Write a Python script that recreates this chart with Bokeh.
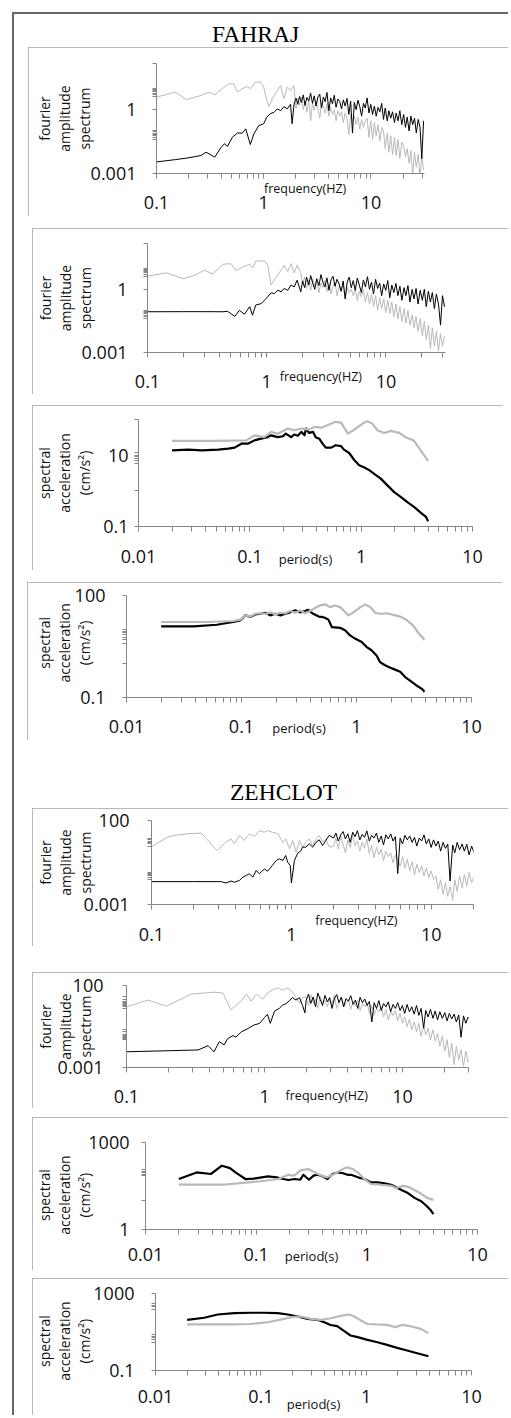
import math
from bokeh.plotting import figure
from bokeh.models import Range1d, FixedTicker, CustomJSTickFormatter, Div
from bokeh.layouts import column
from bokeh.embed import file_html
from bokeh.resources import INLINE

# ---------------- data ----------------
# shared frequency samples for the noisy high-frequency part of the spectra (Hz)
FREQ_HI = [2.0, 2.08, 2.16, 2.25, 2.34, 2.43, 2.53, 2.63, 2.74, 2.85,
           2.96, 3.08, 3.2, 3.33, 3.46, 3.6, 3.74, 3.89, 4.05, 4.21,
           4.38, 4.55, 4.73, 4.92, 5.12, 5.32, 5.53, 5.75, 5.98, 6.22,
           6.47, 6.73, 7.0, 7.28, 7.57, 7.87, 8.19, 8.52, 8.86, 9.21,
           9.58, 9.96, 10.36, 10.77, 11.2, 11.65, 12.12, 12.6, 13.1, 13.6,
           14.2, 14.7, 15.3, 15.9, 16.6, 17.2, 17.9, 18.6, 19.4, 20.2,
           21.0, 21.8, 22.7, 23.6, 24.5, 25.5, 26.5, 27.6, 28.7, 29.8, 31.0]

# FAHRAJ - Fourier amplitude spectrum (1)
FAH1_GRAY_F = [0.1, 0.15, 0.19, 0.26, 0.31, 0.35, 0.41, 0.47, 0.525, 0.57, 0.63, 0.70, 0.75,
               0.84, 0.93, 1.0, 1.07, 1.12, 1.2, 1.34, 1.44, 1.54, 1.66, 1.78, 1.91]
FAH1_GRAY_A = [3.9, 6.8, 3.0, 4.7, 6.8, 5.0, 9.8, 16.6, 16.6, 6.8, 9.8, 12.3, 9.8,
               20, 20, 11.5, 2.7, 1.4, 3.3, 8.1, 13.8, 3.3, 11.5, 8.1, 13.8]
FAH1_GRAY_A_HI = [1.2, 3.5, 1.6, 4.0, 1.0, 2.5, 0.8, 3.0, 0.3, 2.2, 0.9,
                  2.6, 1.1, 0.4, 2.2, 1.4, 0.7, 1.9, 0.5,
                  1.3, 0.6, 1.0, 0.3, 0.9, 0.5,
                  0.8, 0.25, 0.7, 0.4, 0.07, 0.6, 0.3,
                  0.5, 0.2, 0.45, 0.12, 0.35, 0.15, 0.3,
                  0.4, 0.05, 0.3, 0.04,
                  0.25, 0.06, 0.2, 0.035, 0.15,
                  0.1, 0.015, 0.08, 0.01, 0.06, 0.008, 0.05,
                  0.007, 0.04, 0.005, 0.03,
                  0.02, 0.006, 0.015, 0.003, 0.012, 0.0008, 0.01, 0.002, 0.008, 0.0007, 0.006, 0.0015]
FAH1_BLACK_F = [0.1, 0.15, 0.2, 0.26, 0.29, 0.35, 0.40, 0.43, 0.46, 0.51, 0.57, 0.63, 0.68, 0.75,
                0.81, 0.9, 1.0, 1.07, 1.15, 1.25, 1.34, 1.44, 1.54, 1.66, 1.78, 1.84, 1.92]
FAH1_BLACK_A = [0.0035, 0.0045, 0.0055, 0.007, 0.01, 0.0059, 0.017, 0.025, 0.019, 0.051, 0.081, 0.079,
                0.126, 0.023, 0.074, 0.18, 0.22, 0.45, 0.65, 0.76, 1.1, 0.9, 1.4, 1.1, 1.8, 0.22, 1.9]
FAH1_BLACK_A_HI = [3.5, 1.8, 4.2, 2.2, 5.0, 1.6, 3.8, 2.6, 6.0, 2.0, 4.5,
                   1.5, 3.9, 5.5, 1.2, 4.0, 2.4, 6.5, 0.9,
                   3.6, 1.9, 4.8, 1.3, 3.2, 2.4,
                   1.1, 2.9, 1.5, 3.4, 0.6, 2.5, 0.08,
                   2.2, 1.0, 2.8, 1.4, 0.5, 2.0, 1.2,
                   3.6, 0.7, 1.8, 0.6,
                   1.5, 0.5, 1.3, 0.8, 2.0,
                   0.35, 1.2, 0.3, 0.9, 0.4, 0.8, 0.25,
                   0.7, 0.3, 0.9, 0.2,
                   0.6, 0.15, 0.45, 0.1, 0.5, 0.2, 0.4, 0.08, 0.35, 0.15, 0.005, 0.3]

# FAHRAJ - Fourier amplitude spectrum (2)
FAH2_GRAY_F = [0.1, 0.144, 0.2, 0.25, 0.30, 0.354, 0.43, 0.50, 0.555, 0.63, 0.72, 0.76, 0.81,
               0.96, 1.02, 1.09, 1.16, 1.32, 1.4, 1.5, 1.6, 1.7, 1.8, 1.93]
FAH2_GRAY_A = [4.2, 6.0, 3.2, 4.7, 8.1, 5.3, 15.5, 16.6, 7.6, 11.7, 15.5, 10.7, 21.7,
               22.5, 14, 1.6, 2.9, 8.1, 14, 6.8, 16.6, 6.0, 14, 6.0]
FAH2_GRAY_A_HI = [1.8, 3.9, 1.1, 2.8, 0.9, 3.2, 1.4, 2.4, 0.7, 2.0, 1.2,
                  2.6, 0.8, 1.9, 0.6, 1.5, 2.2, 0.5, 1.4,
                  0.9, 1.6, 0.4, 1.2, 0.7, 1.0,
                  0.5, 1.1, 0.3, 0.8, 0.45, 0.9, 0.25,
                  0.7, 0.2, 0.6, 0.15, 0.5, 0.1, 0.4,
                  0.12, 0.35, 0.08, 0.3,
                  0.07, 0.25, 0.05, 0.2, 0.04,
                  0.15, 0.03, 0.12, 0.025, 0.1, 0.02, 0.06,
                  0.015, 0.05, 0.01, 0.04,
                  0.006, 0.03, 0.004, 0.02, 0.0015, 0.015, 0.002, 0.01, 0.0012, 0.008, 0.002, 0.006]
FAH2_BLACK_F = [0.1, 0.2, 0.3, 0.43, 0.47, 0.54, 0.59, 0.65, 0.72, 0.76, 0.81, 0.90,
                0.99, 1.09, 1.16, 1.24, 1.32, 1.4, 1.5, 1.6, 1.7, 1.8, 1.93]
FAH2_BLACK_A = [0.086, 0.087, 0.087, 0.086, 0.09, 0.052, 0.10, 0.066, 0.15, 0.059, 0.18, 0.21,
                0.37, 0.68, 0.63, 0.91, 0.76, 1.1, 0.9, 1.6, 1.3, 2.7, 0.76]
FAH2_BLACK_A_HI = [2.5, 1.2, 3.8, 1.6, 4.5, 2.0, 1.0, 3.2, 1.5, 5.0, 2.2,
                   1.3, 3.5, 0.9, 2.8, 4.2, 1.4, 3.0, 1.8,
                   0.8, 2.5, 0.35, 2.2, 3.8, 1.2,
                   2.6, 0.9, 3.4, 1.6, 0.7, 2.8, 1.3,
                   4.0, 1.0, 2.2, 0.6, 3.0, 1.1, 2.0,
                   0.5, 1.8, 0.9, 2.6,
                   0.4, 1.6, 0.7, 1.9, 0.5,
                   1.4, 0.3, 1.2, 0.5, 1.5, 0.25, 1.0,
                   0.35, 1.1, 0.2, 0.9,
                   0.3, 1.0, 0.15, 0.8, 0.25, 0.7, 0.12, 0.6, 0.2, 0.02, 0.5, 0.15]

# FAHRAJ - spectral acceleration (1): period (s) / value
FAH3_BLACK_T = [0.02, 0.028, 0.037, 0.052, 0.064, 0.073, 0.084, 0.096, 0.11, 0.126, 0.145, 0.155,
                0.178, 0.198, 0.21, 0.235, 0.25, 0.27, 0.29, 0.31, 0.32, 0.34, 0.37, 0.39, 0.42,
                0.45, 0.48, 0.54, 0.59, 0.66, 0.70, 0.78, 0.87, 0.96, 1.07, 1.18, 1.31, 1.5, 1.73,
                1.98, 2.28, 2.6, 3.0, 3.4, 3.8, 4.0]
FAH3_BLACK_SA = [13.7, 14.3, 13.7, 14.3, 15.3, 16.3, 21, 21, 26, 29, 32, 36,
                 32, 34, 40, 32, 38, 35, 45, 36, 56, 42, 45, 32, 29,
                 21, 16.3, 16.3, 19, 18, 14.3, 11.5, 7.2, 5.2, 4.5, 3.8, 3.0, 2.2, 1.4,
                 0.92, 0.67, 0.48, 0.35, 0.25, 0.19, 0.14]
FAH3_GRAY_T = [0.02, 0.05, 0.093, 0.11, 0.135, 0.155, 0.178, 0.22, 0.25, 0.29, 0.34, 0.38, 0.44,
               0.54, 0.59, 0.66, 0.76, 0.90, 1.03, 1.13, 1.26, 1.40, 1.61, 1.85, 2.2, 2.5, 2.96,
               3.5, 4.0]
FAH3_GRAY_SA = [25, 25, 26, 36, 32, 45, 40, 56, 50, 56, 52, 62, 59,
                77, 86, 82, 40, 56, 77, 89, 77, 50, 42, 48, 42, 32, 26,
                12.3, 6.9]

# FAHRAJ - spectral acceleration (2)
FAH4_BLACK_T = [0.02, 0.0385, 0.061, 0.075, 0.085, 0.098, 0.108, 0.119, 0.132, 0.145, 0.161,
                0.178, 0.197, 0.218, 0.24, 0.265, 0.293, 0.324, 0.357, 0.38, 0.42, 0.47, 0.50,
                0.53, 0.57, 0.61, 0.72, 0.80, 0.88, 0.97, 1.11, 1.22, 1.35, 1.5, 1.60, 1.77,
                1.95, 2.16, 2.4, 2.65, 2.9, 3.3, 3.7, 3.9]
FAH4_BLACK_SA = [12.3, 12.3, 13.8, 15.5, 16.6, 18.6, 26, 23.5, 27.6, 29, 31,
                 26, 29, 26, 29, 32, 36.6, 32, 35, 38, 29, 24, 23.5,
                 22.2, 19.5, 11.8, 11.2, 9.4, 6.7, 5.4, 4.3, 3.1, 2.45, 1.7, 1.1, 0.89,
                 0.76, 0.66, 0.57, 0.40, 0.32, 0.23, 0.18, 0.147]
FAH4_GRAY_T = [0.02, 0.05, 0.085, 0.098, 0.108, 0.119, 0.132, 0.145, 0.166, 0.178, 0.197, 0.218,
               0.24, 0.265, 0.293, 0.324, 0.357, 0.395, 0.44, 0.48, 0.53, 0.59, 0.65, 0.72,
               0.80, 0.85, 0.94, 1.08, 1.19, 1.32, 1.45, 1.60, 1.83, 2.1, 2.4, 2.7, 3.1, 3.5, 3.9]
FAH4_GRAY_SA = [16.6, 16.6, 17.8, 19.5, 26, 24, 29, 30, 29, 32, 27.6, 31,
                30, 35, 31, 36.6, 30, 35, 43.6, 51, 55, 45.5, 51, 45.5,
                32, 26, 32, 45.5, 54, 45.5, 31, 29, 30, 27, 24, 19.5, 13.2, 7.5, 5.0]

# ZEHCLOT - Fourier amplitude spectrum (1)
ZEH1_GRAY_F = [0.1, 0.131, 0.147, 0.18, 0.227, 0.295, 0.34, 0.37, 0.39, 0.425, 0.46, 0.50, 0.545,
               0.59, 0.64, 0.676, 0.73, 0.80, 0.87, 0.91, 0.97, 1.02, 1.08, 1.14, 1.2, 1.27, 1.34,
               1.42, 1.5, 1.58, 1.67, 1.76, 1.86]
ZEH1_GRAY_A = [2.8, 10.3, 13, 16.3, 17.7, 1.6, 5.1, 8.1, 4.1, 13, 6.4, 16.3, 11.3,
               25, 20, 25, 20, 16.3, 5.1, 8.1, 2.0, 6.4, 1.3, 6.4, 2.6, 5.1, 8.1,
               3.2, 8.1, 13, 5.1, 8.1, 2.6]
ZEH1_GRAY_A_HI = [3, 9, 2, 12, 4, 1.2, 7, 2.5, 14, 3, 6,
                  1.5, 5, 2.2, 8, 1.1, 3.5, 0.6, 2.5,
                  0.9, 2, 0.4, 1.5, 0.7, 1.2,
                  0.3, 0.9, 0.5, 0.2, 0.7, 0.15, 0.5,
                  0.1, 0.35, 0.06, 0.25, 0.08, 0.2, 0.05,
                  0.15, 0.04, 0.1, 0.03,
                  0.05, 0.008, 0.03, 0.004, 0.02,
                  0.003, 0.012, 0.0018, 0.03, 0.006, 0.05, 0.01,
                  0.06, 0.012, 0.08, 0.02,
                  0.05, 0.015, 0.07, 0.02, 0.05, 0.01, 0.06, 0.02, 0.04, 0.01, 0.05, 0.02]
ZEH1_BLACK_F = [0.1, 0.2, 0.315, 0.34, 0.37, 0.39, 0.425, 0.45, 0.476, 0.50, 0.53, 0.56, 0.59,
                0.64, 0.676, 0.73, 0.78, 0.82, 0.87, 0.91, 0.94, 0.98, 1.0, 1.05, 1.11, 1.17,
                1.2, 1.27, 1.34, 1.42, 1.5, 1.58, 1.67, 1.76, 1.86]
ZEH1_BLACK_A = [0.023, 0.023, 0.023, 0.019, 0.025, 0.021, 0.027, 0.043, 0.054, 0.067, 0.043, 0.105,
                0.067, 0.13, 0.096, 0.21, 0.42, 0.52, 0.42, 0.83, 0.33, 0.21, 0.019, 0.42, 1.14,
                1.6, 2.6, 2.6, 4.1, 2.6, 5.1, 7.1, 3.2, 6.4, 13]
ZEH1_BLACK_A_HI = [9, 18, 6, 14, 22, 8, 16, 5, 20, 11, 25,
                   7, 15, 10, 24, 6, 13, 9, 18,
                   5, 12, 3.5, 14, 8, 16,
                   6, 11, 0.07, 9, 4, 13, 7,
                   12, 5, 10, 3, 9, 6, 14,
                   4, 8, 2.5, 7,
                   3, 6, 1.5, 5, 2.2,
                   4, 0.025, 3.5, 1.2, 5, 1.8, 4,
                   1.5, 3.8, 0.9, 3,
                   1.2, 2.5, 1, 3, 1.5, 2.8, 1, 2.5, 1.2, 2, 1, 2]

# ZEHCLOT - Fourier amplitude spectrum (2)
ZEH2_GRAY_F = [0.1, 0.143, 0.194, 0.295, 0.43, 0.50, 0.57, 0.68, 0.74, 0.80, 0.87, 0.97, 1.05,
               1.14, 1.24, 1.35, 1.47, 1.59, 1.69, 1.79, 1.88]
ZEH2_GRAY_A = [5.0, 13, 5.5, 30, 39, 35, 3.3, 11.8, 30, 10.9, 30, 14.7, 35,
               53, 71, 53, 71, 42, 18, 8.5, 18]
ZEH2_GRAY_A_HI = [20, 6, 28, 9, 15, 4, 22, 8, 12, 5, 18,
                  7, 25, 4, 11, 16, 5, 9, 14,
                  3.5, 10, 6, 13, 3, 8,
                  5, 9, 2, 6, 1.5, 4, 2.5,
                  5, 1.2, 3.5, 0.8, 2.5, 1.5, 3,
                  0.7, 2, 0.5, 1.2,
                  0.3, 0.9, 0.2, 0.6, 0.15,
                  0.5, 0.08, 0.35, 0.1, 0.25, 0.05, 0.2,
                  0.04, 0.12, 0.02, 0.08,
                  0.01, 0.05, 0.004, 0.03, 0.0015, 0.02, 0.003, 0.012, 0.0012, 0.01, 0.002, 0.006]
ZEH2_BLACK_F = [0.1, 0.33, 0.39, 0.43, 0.47, 0.51, 0.54, 0.59, 0.62, 0.68, 0.76, 0.84, 0.92,
                1.0, 1.05, 1.1, 1.18, 1.28, 1.35, 1.43, 1.51, 1.59, 1.69, 1.79, 1.88, 1.96]
ZEH2_BLACK_A = [0.0091, 0.0117, 0.0215, 0.0091, 0.037, 0.024, 0.057, 0.088, 0.071, 0.15, 0.24,
                0.39, 0.49, 1.14, 1.74, 0.49, 2.7, 4.1, 6.3, 7.8, 11.8, 18, 13, 18, 6.3, 2.15]
ZEH2_BLACK_A_HI = [12, 30, 8, 20, 5, 35, 14, 6, 25, 10, 18,
                   4, 15, 28, 9, 20, 5, 16, 11,
                   24, 7, 13, 4, 19, 9,
                   15, 6, 11, 0.6, 9, 4, 12,
                   3, 8, 5, 10, 2.5, 7, 4,
                   9, 3, 6, 2,
                   7, 2.5, 5, 1.8, 6,
                   1.5, 4, 0.25, 3, 1.2, 3.5, 1,
                   2.8, 0.8, 2.5, 1,
                   2.2, 0.7, 2, 0.9, 1.8, 0.6, 1.6, 0.07, 1.4, 0.5, 1.2, 0.8]

# ZEHCLOT - spectral acceleration (1)
ZEH3_BLACK_T = [0.02, 0.029, 0.039, 0.049, 0.058, 0.065, 0.08, 0.095, 0.112, 0.128, 0.153, 0.176,
                0.195, 0.224, 0.25, 0.267, 0.30, 0.33, 0.36, 0.40, 0.44, 0.49, 0.55, 0.61, 0.67,
                0.72, 0.83, 0.95, 1.09, 1.25, 1.44, 1.66, 1.9, 2.1, 2.35, 2.7, 3.1, 3.45, 3.8, 4.0]
ZEH3_BLACK_SA = [55, 93, 82, 158, 131, 93, 55, 57, 63, 68, 63, 55,
                 51, 55, 52, 77, 52, 72, 77, 68, 55, 82, 93, 87, 77,
                 77, 63, 55, 42, 42, 39, 35, 27, 22, 18, 12.3, 9.4, 6.6, 4.5, 3.4]
ZEH3_GRAY_T = [0.02, 0.05, 0.085, 0.12, 0.158, 0.195, 0.22, 0.255, 0.295, 0.34, 0.39, 0.44, 0.51,
               0.57, 0.63, 0.67, 0.75, 0.83, 0.95, 1.09, 1.34, 1.66, 1.84, 2.1, 2.35, 2.7, 3.1,
               3.5, 4.0]
ZEH3_GRAY_SA = [35, 35, 42, 48, 55, 77, 72, 112, 121, 93, 72, 63, 82,
                106, 131, 138, 121, 93, 55, 37, 35, 32, 27, 32, 30, 23, 17, 12.3, 10.5]

# ZEHCLOT - spectral acceleration (2)
ZEH4_BLACK_T = [0.02, 0.029, 0.039, 0.056, 0.081, 0.108, 0.145, 0.18, 0.224, 0.278, 0.345, 0.40,
                0.46, 0.53, 0.62, 0.71, 0.83, 1.03, 1.28, 1.58, 1.97, 2.45, 3.05, 3.9]
ZEH4_BLACK_SA = [43, 55, 81, 95, 100, 100, 95, 81, 64, 48, 43, 32,
                 23, 20, 11, 6.6, 5.4, 3.9, 2.95, 2.15, 1.5, 1.1, 0.79, 0.55]
ZEH4_GRAY_T = [0.02, 0.056, 0.081, 0.116, 0.167, 0.194, 0.24, 0.30, 0.37, 0.46, 0.62, 0.69,
               0.77, 0.89, 1.03, 1.28, 1.58, 1.9, 2.2, 2.63, 3.3, 3.9]
ZEH4_GRAY_SA = [24.6, 24.6, 26, 32, 48, 59, 64, 48, 43, 52, 75, 81,
                64, 40, 26, 24.6, 23.5, 18, 23.5, 20, 14.5, 8.7]

# tick positions / labels
FREQ_MAJOR = [0.1, 1, 10]
PERIOD_MAJOR = [0.01, 0.1, 1, 10]
FREQ_MINOR_30 = [0.2, 0.3, 0.4, 0.5, 0.6, 0.7, 0.8, 0.9, 2, 3, 4, 5, 6, 7, 8, 9, 20, 30]
FREQ_MINOR_20 = [0.2, 0.3, 0.4, 0.5, 0.6, 0.7, 0.8, 0.9, 2, 3, 4, 5, 6, 7, 8, 9, 20]
PERIOD_MINOR = [0.02, 0.03, 0.04, 0.05, 0.06, 0.07, 0.08, 0.09,
                0.2, 0.3, 0.4, 0.5, 0.6, 0.7, 0.8, 0.9, 2, 3, 4, 5, 6, 7, 8, 9]

FAS_TITLE = "fourier\namplitude\nspectrum"
SA_TITLE = "spectral\nacceleration\n(cm/s\u00b2)"
FREQ_TITLE = "frequency(HZ)"
PERIOD_TITLE = "period(s)"
STATION_1 = "FAHRAJ"
STATION_2 = "ZEHCLOT"

# ---------------- style ----------------
GRAY = "#b9b9b9"
BLACK = "#000000"
AXIS_COLOR = "#868686"
BOX_COLOR = "#a0a0a0"
FONT = "Open Sans"
ORIGIN_X, ORIGIN_Y = 14, 14
NBSP = "\u00a0"

# yshift: nbsp padding on the rotated y titles (<0 leading -> moves up, >0 trailing -> moves down)
PANELS = [
    dict(box=(28, 47, 480, 169), frame=(156, 424, 63, 173), xr=(0.1, 31.6), yr=(0.001, 150),
         xt=FREQ_MAJOR, xm=FREQ_MINOR_30, yt=[0.001, 1],
         ym=[0.04, 0.05, 0.06, 0.07, 0.08, 0.09, 0.1, 4, 5, 6, 7, 8, 9, 10, 150],
         xs=17, ys=16, yals=-6, xals=-32, xpad=9, yshift=0, ytitle=FAS_TITLE, xtitle=FREQ_TITLE,
         xfs="12.5px", lw=1,
         series=[(FAH1_GRAY_F + FREQ_HI, FAH1_GRAY_A + FAH1_GRAY_A_HI, GRAY),
                 (FAH1_BLACK_F + FREQ_HI, FAH1_BLACK_A + FAH1_BLACK_A_HI, BLACK)]),
    dict(box=(32, 228, 476, 166), frame=(146, 445, 243, 352), xr=(0.1, 31.6), yr=(0.001, 150),
         xt=FREQ_MAJOR, xm=FREQ_MINOR_30, yt=[0.001, 1],
         ym=[0.04, 0.05, 0.06, 0.07, 0.08, 0.09, 0.1, 4, 5, 6, 7, 8, 9, 10, 150],
         xs=17, ys=16, yals=-16, xals=-23, xpad=15, yshift=0, ytitle=FAS_TITLE, xtitle=FREQ_TITLE,
         xfs="12.5px", lw=1,
         series=[(FAH2_GRAY_F + FREQ_HI, FAH2_GRAY_A + FAH2_GRAY_A_HI, GRAY),
                 (FAH2_BLACK_F + FREQ_HI, FAH2_BLACK_A + FAH2_BLACK_A_HI, BLACK)]),
    dict(box=(32, 405, 471, 165), frame=(137, 472, 419, 526), xr=(0.01, 10), yr=(0.1, 100),
         xt=PERIOD_MAJOR, xm=PERIOD_MINOR, yt=[0.1, 10], ym=[1, 6, 7, 8, 9, 12, 100],
         xs=18, ys=6, yals=6, xals=-16, xpad=0, yshift=0, ytitle=SA_TITLE, xtitle=PERIOD_TITLE,
         xfs="13px", lw=2.2,
         series=[(FAH3_BLACK_T, FAH3_BLACK_SA, BLACK), (FAH3_GRAY_T, FAH3_GRAY_SA, GRAY)]),
    dict(box=(27, 582, 475, 158), frame=(126, 471, 595, 697), xr=(0.01, 10), yr=(0.1, 100),
         xt=PERIOD_MAJOR, xm=PERIOD_MINOR, yt=[0.1, 100], ym=[1, 4, 5, 6, 7, 8, 9, 10],
         xs=17, ys=17, yals=-22, xals=-17, xpad=0, yshift=-2, ytitle=SA_TITLE, xtitle=PERIOD_TITLE,
         xfs="13px", lw=2.2,
         series=[(FAH4_BLACK_T, FAH4_BLACK_SA, BLACK), (FAH4_GRAY_T, FAH4_GRAY_SA, GRAY)]),
    dict(box=(32, 808, 476, 138), frame=(150, 473, 820, 904), xr=(0.1, 20), yr=(0.001, 100),
         xt=FREQ_MAJOR, xm=FREQ_MINOR_20, yt=[0.001, 100],
         ym=[0.03, 0.04, 0.05, 0.06, 0.07, 0.08, 3, 4, 5, 6, 7, 8, 9],
         xs=18, ys=18, yals=-14, xals=-32, xpad=27, yshift=0, ytitle=FAS_TITLE, xtitle=FREQ_TITLE,
         xfs="12.5px", lw=1,
         series=[(ZEH1_GRAY_F + FREQ_HI, ZEH1_GRAY_A + ZEH1_GRAY_A_HI, GRAY),
                 (ZEH1_BLACK_F + FREQ_HI, ZEH1_BLACK_A + ZEH1_BLACK_A_HI, BLACK)]),
    dict(box=(32, 972, 476, 136), frame=(125, 468, 985, 1067), xr=(0.1, 30), yr=(0.001, 100),
         xt=FREQ_MAJOR, xm=FREQ_MINOR_30, yt=[0.001, 100],
         ym=[0.05, 0.06, 0.07, 0.08, 0.09, 0.1, 0.15, 0.2, 4, 5, 6, 7, 8, 9, 10, 15, 20],
         xs=17, ys=19, yals=-40, xals=-19, xpad=18, yshift=0, ytitle=FAS_TITLE, xtitle=FREQ_TITLE,
         xfs="12.5px", lw=1,
         series=[(ZEH2_GRAY_F + FREQ_HI, ZEH2_GRAY_A + ZEH2_GRAY_A_HI, GRAY),
                 (ZEH2_BLACK_F + FREQ_HI, ZEH2_BLACK_A + ZEH2_BLACK_A_HI, BLACK)]),
    dict(box=(32, 1117, 476, 153), frame=(143, 477, 1142, 1229), xr=(0.01, 10), yr=(1, 1000),
         xt=PERIOD_MAJOR, xm=PERIOD_MINOR, yt=[1, 1000], ym=[10, 70, 80, 90, 100, 120],
         xs=13, ys=12, yals=-9, xals=-17, xpad=0, yshift=5, ytitle=SA_TITLE, xtitle=PERIOD_TITLE,
         xfs="13px", lw=2.2,
         series=[(ZEH3_BLACK_T, ZEH3_BLACK_SA, BLACK), (ZEH3_GRAY_T, ZEH3_GRAY_SA, GRAY)]),
    dict(box=(32, 1278, 476, 137), frame=(154, 471, 1293, 1370), xr=(0.01, 10), yr=(0.1, 1000),
         xt=PERIOD_MAJOR, xm=PERIOD_MINOR, yt=[0.1, 1000], ym=[3, 4, 5, 6, 7, 150, 200, 250, 300],
         xs=14, ys=17, yals=-4, xals=-11, xpad=0, yshift=5, ytitle=SA_TITLE, xtitle=PERIOD_TITLE,
         xfs="13px", lw=2.2,
         series=[(ZEH4_BLACK_T, ZEH4_BLACK_SA, BLACK), (ZEH4_GRAY_T, ZEH4_GRAY_SA, GRAY)]),
]

FORMAT_CODE = "return String(Number(tick.toPrecision(6)));"


def style_axis(ax, major, minor, standoff, tick_len, title, title_size, title_standoff, line_h):
    ax.ticker = FixedTicker(ticks=major, minor_ticks=minor)
    ax.formatter = CustomJSTickFormatter(code=FORMAT_CODE)
    ax.axis_line_color = AXIS_COLOR
    ax.axis_line_width = 1
    ax.major_tick_line_color = AXIS_COLOR
    ax.minor_tick_line_color = AXIS_COLOR
    ax.major_tick_in = 0
    ax.minor_tick_in = 0
    ax.major_tick_out = tick_len
    ax.minor_tick_out = tick_len
    ax.major_label_standoff = standoff
    ax.major_label_text_font = FONT
    ax.major_label_text_font_size = "18px"
    ax.major_label_text_color = "#111111"
    ax.axis_label = title
    ax.axis_label_standoff = title_standoff
    ax.axis_label_text_font = FONT
    ax.axis_label_text_font_size = title_size
    ax.axis_label_text_font_style = "normal"
    ax.axis_label_text_color = "#111111"
    ax.axis_label_text_line_height = line_h


def shifted_title(text, shift):
    lead = NBSP * (-shift) if shift < 0 else ""
    trail = NBSP * shift if shift > 0 else ""
    return "\n".join(lead + line + trail for line in text.split("\n"))


def make_panel(cfg, prev_bottom):
    bl, bt, w, h = cfg["box"]
    fl, fr, ft, fb = cfg["frame"]
    p = figure(width=w, height=h, x_axis_type="log", y_axis_type="log",
               x_range=Range1d(*cfg["xr"]), y_range=Range1d(*cfg["yr"]),
               min_border_left=fl - bl, min_border_right=bl + w - fr,
               min_border_top=ft - bt, min_border_bottom=bt + h - fb,
               output_backend="svg", toolbar_location=None,
               margin=(bt - prev_bottom, 0, 0, bl - ORIGIN_X),
               styles={"outline": "2px solid " + BOX_COLOR, "outline-offset": "-2px"})
    if "frame_align" in p.properties():
        p.frame_align = False
    p.outline_line_color = None
    p.xgrid.grid_line_color = None
    p.ygrid.grid_line_color = None
    p.background_fill_color = "white"
    p.border_fill_color = "white"
    style_axis(p.xaxis[0], cfg["xt"], cfg["xm"], cfg["xs"], 5,
               NBSP * cfg["xpad"] + cfg["xtitle"], cfg["xfs"], cfg["xals"], 1.2)
    style_axis(p.yaxis[0], cfg["yt"], cfg["ym"], cfg["ys"], 4,
               shifted_title(cfg["ytitle"], cfg["yshift"]), "14px", cfg["yals"], 1.05)
    p.yaxis[0].axis_label_text_align = "center"
    for xs, ys, color in cfg["series"]:
        n = min(len(xs), len(ys))
        p.line(xs[:n], ys[:n], line_color=color, line_width=cfg["lw"], line_join="round")
    return p


def title_div(text, height, left, top):
    html = ('<div style="position:relative;left:%dpx;top:%dpx;font-family:\'Liberation Serif\';'
            'font-size:23.5px;line-height:23.5px;color:#000;white-space:nowrap;">%s</div>'
            % (left, top, text))
    return Div(text=html, width=460, height=height, margin=(0, 0, 0, 0))


children = [title_div(STATION_1, 47 - ORIGIN_Y, 212 - ORIGIN_X, 9)]
bottom = 47
for i, cfg in enumerate(PANELS):
    if i == 4:
        children.append(title_div(STATION_2, 808 - bottom, 230 - ORIGIN_X, 41))
        bottom = 808
    children.append(make_panel(cfg, bottom))
    bottom = cfg["box"][1] + cfg["box"][3]

layout = column(children=children, spacing=0, margin=(12, 0, 0, 12),
                styles={"border-left": "2px solid #666666", "border-top": "2px solid #666666"})

open("out.html", "w").write(file_html(layout, INLINE))
